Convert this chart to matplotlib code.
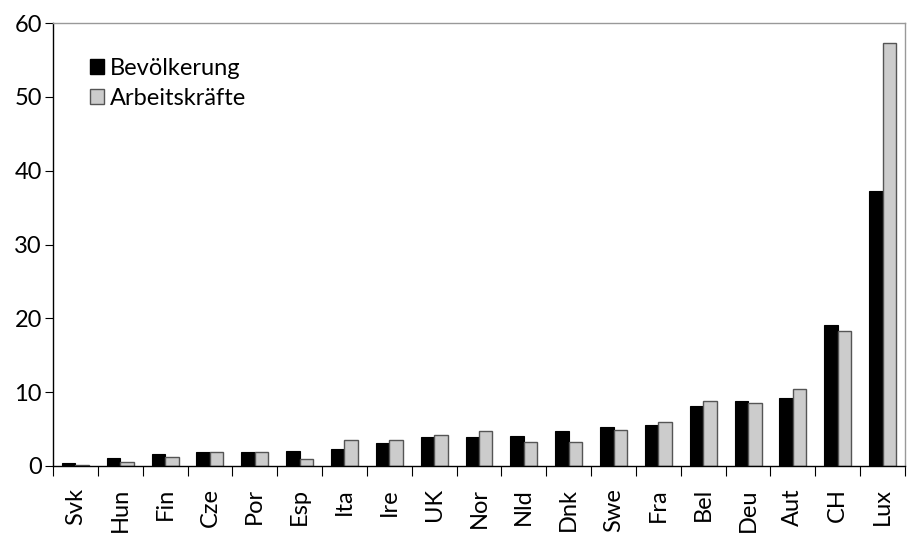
import matplotlib
matplotlib.use("Agg")
import matplotlib.pyplot as plt
import numpy as np
from matplotlib.patches import Patch

countries = ["Svk", "Hun", "Fin", "Cze", "Por", "Esp", "Ita", "Ire", "UK", "Nor",
             "Nld", "Dnk", "Swe", "Fra", "Bel", "Deu", "Aut", "CH", "Lux"]
bevoelkerung = [0.45, 1.1, 1.65, 1.85, 1.85, 2.0, 2.3, 3.1, 3.9, 3.95,
                4.05, 4.75, 5.3, 5.55, 8.15, 8.8, 9.2, 19.1, 37.2]
arbeitskraefte = [0.1, 0.6, 1.2, 1.85, 1.85, 1.0, 3.5, 3.5, 4.25, 4.7,
                  3.2, 3.2, 4.9, 5.9, 8.75, 8.6, 10.4, 18.3, 57.3]
yticks = [0, 10, 20, 30, 40, 50, 60]

plt.rcParams["font.family"] = ["Lato", "DejaVu Sans"]
fs = 17

fig = plt.figure(figsize=(9.07, 5.33), dpi=100)
ax = fig.add_axes([53 / 907, 1 - 466 / 533, 852 / 907, 443 / 533])

x = np.arange(len(countries))
w = 0.3
ax.bar(x - w / 2, bevoelkerung, w, color="black", edgecolor="black", linewidth=0.8)
ax.bar(x + w / 2, arbeitskraefte, w, color="#cccccc", edgecolor="#555555", linewidth=1.0)

ax.set_xlim(-0.5, len(countries) - 0.5)
ax.set_ylim(0, 60)
ax.set_yticks(yticks)
ax.set_yticklabels([str(t) for t in yticks], fontsize=fs)

ax.set_xticks(x)
ax.set_xticklabels(countries, rotation=90, fontsize=fs)
ax.tick_params(axis="x", length=0, pad=16)
ax.set_xticks(np.arange(len(countries) + 1) - 0.5, minor=True)
ax.tick_params(axis="x", which="minor", length=7, width=0.8, color="black")
ax.tick_params(axis="y", length=6, width=0.8, pad=2)

for side in ("top", "right"):
    ax.spines[side].set_color("#999999")
    ax.spines[side].set_linewidth(1.0)
for side in ("left", "bottom"):
    ax.spines[side].set_color("black")
    ax.spines[side].set_linewidth(1.0)

handles = [Patch(facecolor="black", edgecolor="black", label="Bevölkerung"),
           Patch(facecolor="#cccccc", edgecolor="#555555", label="Arbeitskräfte")]
ax.legend(handles=handles, loc="upper left", bbox_to_anchor=(0.043, 0.922),
          frameon=False, fontsize=fs, handlelength=0.6, handleheight=0.6,
          handletextpad=0.25, labelspacing=0.4, borderaxespad=0, borderpad=0)

fig.savefig("out.png", dpi=100)
